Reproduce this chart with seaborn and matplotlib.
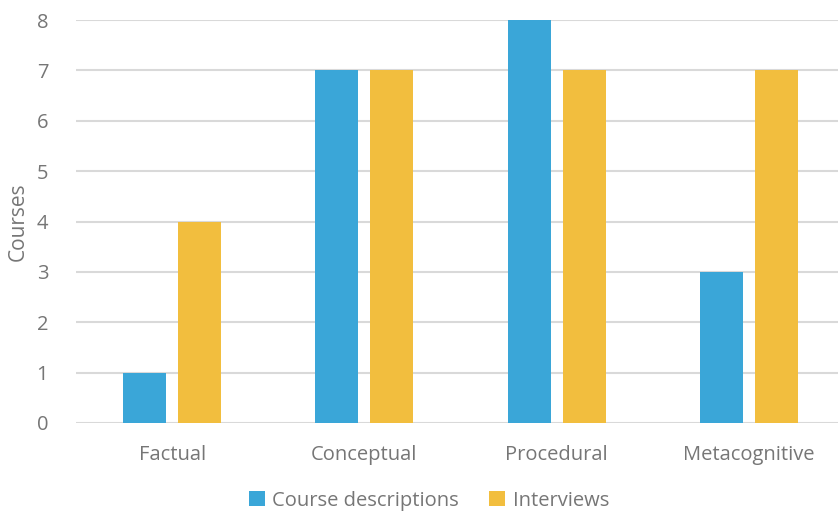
import pandas as pd
import matplotlib
matplotlib.use('Agg')
import matplotlib.pyplot as plt
import seaborn as sns

categories = ['Factual', 'Conceptual', 'Procedural', 'Metacognitive']
course_descriptions = [1, 7, 8, 3]
interviews = [4, 7, 7, 7]
series_names = ['Course descriptions', 'Interviews']
y_ticks = [0, 1, 2, 3, 4, 5, 6, 7, 8]

df = pd.DataFrame({
    'Category': categories * 2,
    'Courses': course_descriptions + interviews,
    'Source': [series_names[0]] * 4 + [series_names[1]] * 4,
})

sns.set_theme(style='white')
plt.rcParams['font.family'] = ['Open Sans', 'DejaVu Sans']
text_col = '#767676'

fig = plt.figure(figsize=(8.38, 5.12), dpi=100)
ax = fig.add_axes([76 / 838, 89 / 512, 769 / 838, 403 / 512])

sns.barplot(data=df, x='Category', y='Courses', hue='Source', order=categories,
            hue_order=series_names, palette=['#3AA6D8', '#F2BE3E'],
            width=0.573, gap=0.217, saturation=1, linewidth=0, ax=ax, legend=True)

ax.set_ylim(0, 8)
ax.set_xlim(-0.5, 3.5)
ax.set_yticks(y_ticks)
ax.yaxis.grid(True, color='#d9d9d9', linewidth=1.5)
ax.set_axisbelow(True)
for s in ax.spines.values():
    s.set_visible(False)
ax.tick_params(axis='both', length=0, labelsize=14.5, colors=text_col)
ax.tick_params(axis='x', pad=16)
ax.tick_params(axis='y', pad=20)
ax.set_xlabel('')
ax.set_ylabel('Courses', fontsize=15, color=text_col, labelpad=6)

handles, labels = ax.get_legend_handles_labels()
ax.get_legend().remove()
fig.legend(handles, labels, loc='center', bbox_to_anchor=(0.512, 0.022), ncol=2,
           frameon=False, fontsize=14.5, labelcolor=text_col, handlelength=0.8,
           handleheight=0.8, handletextpad=0.35, columnspacing=1.5)

fig.savefig('out.png', dpi=100)
